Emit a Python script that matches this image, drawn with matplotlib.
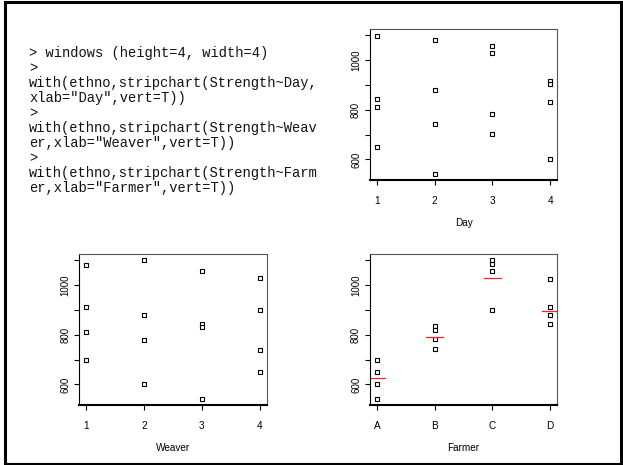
import matplotlib
matplotlib.use("Agg")
import matplotlib.pyplot as plt
from matplotlib.patches import Rectangle
import numpy as np

# ---- data ----
day_levels = ["1", "2", "3", "4"]
day_values = [
    [1097, 842, 810, 651],
    [1081, 880, 742, 542],
    [1056, 1026, 782, 702],
    [914, 902, 832, 602],
]
weaver_levels = ["1", "2", "3", "4"]
weaver_values = [
    [1082, 910, 810, 700],
    [1102, 880, 780, 600],
    [1056, 842, 831, 540],
    [1027, 900, 740, 649],
]
farmer_levels = ["A", "B", "C", "D"]
farmer_values = [
    [700, 649, 600, 540],
    [836, 819, 782, 741],
    [1100, 1084, 1055, 900],
    [1025, 910, 880, 842],
]
farmer_lines = [627, 790, 1027, 894]

ytick_vals = [600, 700, 800, 900, 1000, 1100]
ytick_labels = ["600", "", "800", "", "1000", ""]

code_lines = [
    "> windows (height=4, width=4)",
    ">",
    "with(ethno,stripchart(Strength~Day,",
    "xlab=\"Day\",vert=T))",
    ">",
    "with(ethno,stripchart(Strength~Weav",
    "er,xlab=\"Weaver\",vert=T))",
    ">",
    "with(ethno,stripchart(Strength~Farm",
    "er,xlab=\"Farmer\",vert=T))",
]

W, H = 623, 465
fig = plt.figure(figsize=(W / 100, H / 100), dpi=100)
fig.patch.set_facecolor("white")

SANS = ["Liberation Sans", "DejaVu Sans"]


def px_rect(x0, y0, x1, y1):
    return [x0 / W, 1 - y1 / H, (x1 - x0) / W, (y1 - y0) / H]


all_values = np.concatenate([np.asarray(v, float)
                             for g in (day_values, weaver_values, farmer_values)
                             for v in g])


def strip(rect, levels, values, xlabel, lines=None):
    ax = fig.add_axes(rect)
    lo, hi = all_values.min(), all_values.max()
    r = hi - lo
    for i, vals in enumerate(values):
        x = np.full(len(vals), i + 1)
        ax.plot(x, vals, linestyle="none", marker="s", ms=2.7, mfc="white",
                mec="black", mew=0.8)
    if lines is not None:
        for i, m in enumerate(lines):
            ax.plot([i + 1 - 0.145, i + 1 + 0.145], [m, m], color="#ff2020", lw=0.9)
    ax.set_xlim(0.88, 4.12)
    ax.set_ylim(lo - 0.04 * r, hi + 0.04 * r)
    ax.set_xticks(range(1, len(levels) + 1))
    ax.set_xticklabels(levels, fontsize=7.2, family=SANS)
    ax.set_yticks(ytick_vals)
    ax.set_yticklabels(ytick_labels, fontsize=7.0, family=SANS, rotation=90,
                       va="center")
    ax.tick_params(axis="x", length=3.6, width=0.8, pad=8, direction="out")
    ax.tick_params(axis="y", length=3.6, width=0.8, pad=2.8, direction="out")
    for s in ["top", "right"]:
        ax.spines[s].set_color("#555555")
        ax.spines[s].set_linewidth(0.8)
    ax.spines["left"].set_color("black")
    ax.spines["left"].set_linewidth(0.8)
    ax.spines["bottom"].set_color("black")
    ax.spines["bottom"].set_linewidth(1.5)
    ax.text(0.5, -0.285, xlabel, transform=ax.transAxes, ha="center",
            va="center", fontsize=7.2, family=SANS)
    return ax


strip(px_rect(370, 29, 557, 180), day_levels, day_values, "Day")
strip(px_rect(79.3, 254, 266.7, 405), weaver_levels, weaver_values, "Weaver")
strip(px_rect(370, 254, 557, 405), farmer_levels, farmer_values, "Farmer",
      lines=farmer_lines)

# code text
y0 = 57.3
dy = 15.0
for i, line in enumerate(code_lines):
    fig.text(29.3 / W, 1 - (y0 + i * dy) / H, line,
             family=["Liberation Mono", "DejaVu Sans Mono"],
             fontsize=9.9, va="baseline", ha="left", color="#111111")

# outer border
fig.patches.append(Rectangle((4.5 / W, 1 - 463.5 / H), (620.5 - 4.5) / W, (463.5 - 2) / H,
                             transform=fig.transFigure, fill=False, edgecolor="black",
                             linewidth=2.2))

fig.savefig("out.png", dpi=100, facecolor="white")
